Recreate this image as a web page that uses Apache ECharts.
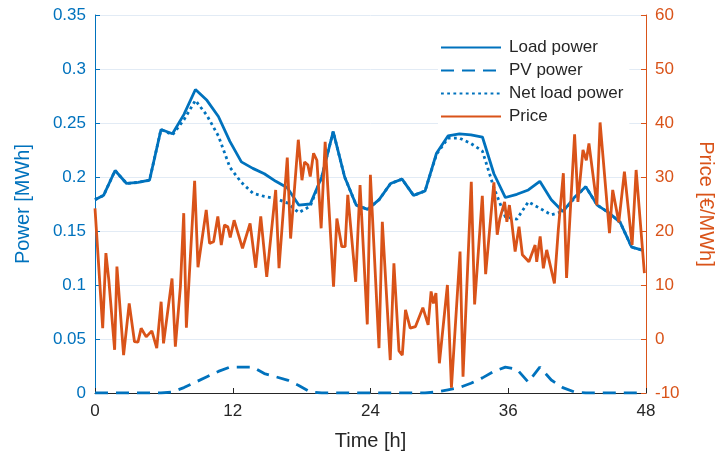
<!DOCTYPE html>
<html>
<head>
<meta charset="utf-8">
<script src="https://cdn.jsdelivr.net/npm/echarts@6/dist/echarts.min.js"></script>
<style>
html,body{margin:0;padding:0;background:#fff;overflow:hidden;}
#c{width:724px;height:461px;}
</style>
</head>
<body>
<div id="c"></div>
<script>
// Time grid (h) for the hourly power profiles
const hours = [0, 0.75, 1.75, 2.75, 3.75, 4.75, 5.75, 6.75, 7.75, 8.75, 9.75, 10.75, 11.75, 12.75, 13.75, 14.75, 15.75, 16.75, 17.75, 18.75, 19.75, 20.75, 21.75, 22.75, 23.75, 24.75, 25.75, 26.75, 27.75, 28.75, 29.75, 30.75, 31.75, 32.75, 33.75, 34.75, 35.75, 36.75, 37.75, 38.75, 39.75, 40.75, 41.75, 42.75, 43.75, 44.75, 45.75, 46.75, 47.75];

const loadPower = [0.179, 0.183, 0.206, 0.194, 0.195, 0.197, 0.244, 0.240, 0.258, 0.281, 0.271, 0.256, 0.233, 0.214, 0.208, 0.203, 0.196, 0.190, 0.174, 0.175, 0.200, 0.242, 0.200, 0.174, 0.170, 0.179, 0.194, 0.198, 0.183, 0.187, 0.222, 0.238, 0.240, 0.239, 0.237, 0.203, 0.181, 0.184, 0.188, 0.196, 0.179, 0.168, 0.181, 0.191, 0.174, 0.167, 0.158, 0.135, 0.132];

const pvPower = [0, 0, 0, 0, 0, 0, 0, 0.001, 0.005, 0.010, 0.015, 0.020, 0.024, 0.024, 0.024, 0.018, 0.015, 0.012, 0.007, 0.001, 0, 0, 0, 0, 0, 0, 0, 0, 0, 0, 0.001, 0.003, 0.005, 0.009, 0.014, 0.020, 0.024, 0.022, 0.010, 0.024, 0.012, 0.005, 0.001, 0, 0, 0, 0, 0, 0];

const netLoadPower = [0.179, 0.183, 0.206, 0.194, 0.195, 0.197, 0.244, 0.239, 0.253, 0.271, 0.257, 0.238, 0.209, 0.195, 0.185, 0.182, 0.180, 0.176, 0.167, 0.173, 0.200, 0.242, 0.200, 0.174, 0.170, 0.179, 0.194, 0.198, 0.183, 0.187, 0.221, 0.236, 0.236, 0.231, 0.224, 0.190, 0.163, 0.161, 0.177, 0.171, 0.165, 0.168, 0.180, 0.191, 0.174, 0.167, 0.158, 0.135, 0.132];

// Price (€/MWh) read at its vertices
const priceTime = [0.0, 0.67, 0.95, 1.2, 1.71, 1.91, 2.49, 2.98, 3.44, 3.74, 4.02, 4.46, 4.95, 5.38, 5.76, 5.97, 6.71, 7.0, 7.44, 7.73, 7.96, 8.68, 8.97, 9.69, 9.98, 10.33, 10.7, 11.0, 11.28, 11.57, 11.78, 12.12, 12.85, 13.51, 14.0, 14.44, 14.96, 15.74, 16.03, 16.75, 17.04, 17.71, 18.03, 18.26, 18.55, 18.75, 19.04, 19.33, 19.7, 20.05, 20.78, 21.07, 21.5, 21.79, 22.02, 22.71, 23.09, 23.72, 23.99, 24.74, 25.03, 25.72, 26.04, 26.48, 26.77, 27.05, 27.46, 27.92, 28.56, 29.02, 29.28, 29.48, 29.7, 30.0, 30.7, 31.05, 31.8, 32.06, 32.78, 33.07, 33.74, 34.03, 34.75, 35.04, 35.27, 35.68, 35.88, 36.1, 36.3, 36.6, 36.94, 37.23, 37.8, 38.34, 38.48, 38.78, 39.06, 39.35, 40.02, 40.36, 40.8, 41.08, 41.78, 42.07, 42.51, 42.8, 43.03, 43.72, 44.0, 44.82, 45.1, 45.63, 46.12, 46.79, 47.14, 47.86];
const priceValue = [24.2, 2.0, 15.9, 11.0, -2.0, 13.4, -3.0, 6.6, -0.5, -0.6, 2.0, 0.4, 1.5, -1.7, 6.9, -0.8, 11.2, -1.4, 9.7, 23.3, 2.1, 29.3, 13.3, 23.9, 17.7, 18.0, 22.7, 17.4, 21.1, 20.8, 18.8, 22.0, 16.8, 21.4, 13.2, 22.7, 11.5, 27.6, 13.1, 33.6, 18.6, 36.9, 29.4, 32.8, 32.2, 30.1, 34.4, 33.1, 20.5, 36.5, 9.7, 22.3, 17.1, 17.1, 26.7, 10.6, 28.5, 2.7, 30.4, -1.7, 21.7, -3.9, 14.0, -2.2, -3.0, 5.4, 2.0, 2.3, 5.8, 2.6, 8.8, 6.6, 8.5, -4.5, 10.0, -9.0, 16.2, -7.0, 29.1, 6.4, 26.5, 12.0, 29.0, 19.3, 22.3, 25.4, 21.7, 24.8, 21.7, 16.2, 20.8, 15.6, 14.3, 17.4, 14.3, 19.0, 13.1, 16.5, 10.3, 20.2, 30.7, 11.3, 37.9, 25.4, 35.0, 33.1, 36.2, 24.8, 40.1, 19.6, 27.6, 21.6, 31.0, 17.4, 31.3, 12.2];

const seriesNames = ['Load power', 'PV power', 'Net load power', 'Price'];
const xTicks = {min: 0, max: 48, interval: 12};
const powerTicks = {min: 0, max: 0.35, interval: 0.05};
const priceTicks = {min: -10, max: 60, interval: 10};

const BLUE = '#0072BD';
const ORANGE = '#D95319';
const FONT = 'Liberation Sans, Arial, Helvetica, sans-serif';
const LW = 2.8;

const pair = (xs, ys) => xs.map((x, i) => [x, ys[i]]);

const chart = echarts.init(document.getElementById('c'), null, {renderer: 'canvas', width: 724, height: 461});
chart.setOption({
  animation: false,
  backgroundColor: '#fff',
  textStyle: {fontFamily: FONT},
  grid: {left: 95, top: 15, width: 553, height: 378, containLabel: false},
  legend: {
    orient: 'vertical',
    left: 438,
    top: 36,
    itemWidth: 60,
    itemHeight: 14,
    itemGap: 6,
    backgroundColor: '#fff',
    padding: [3, 6, 3, 2],
    itemStyle: {opacity: 0},
    textStyle: {fontSize: 17, color: '#262626', fontFamily: FONT, padding: [0, 0, 0, 3]},
    data: seriesNames
  },
  xAxis: {
    type: 'value',
    min: xTicks.min, max: xTicks.max, interval: xTicks.interval,
    name: 'Time [h]',
    nameLocation: 'middle',
    nameGap: 38,
    nameTextStyle: {fontSize: 20, color: '#262626', fontFamily: FONT},
    axisLine: {show: true, lineStyle: {color: '#262626', width: 1}},
    axisTick: {show: true, inside: true, length: 5, lineStyle: {color: '#262626'}},
    axisLabel: {fontSize: 17, color: '#262626', margin: 10, fontFamily: FONT},
    splitLine: {show: false}
  },
  yAxis: [{
    type: 'value',
    position: 'left',
    min: powerTicks.min, max: powerTicks.max, interval: powerTicks.interval,
    name: 'Power [MWh]',
    nameLocation: 'middle',
    nameGap: 62,
    nameRotate: 90,
    nameTextStyle: {fontSize: 20, color: BLUE, fontFamily: FONT},
    axisLine: {show: true, lineStyle: {color: BLUE, width: 1}},
    axisTick: {show: true, inside: true, length: 5, lineStyle: {color: BLUE}},
    axisLabel: {fontSize: 17, color: BLUE, margin: 9, fontFamily: FONT,
      formatter: v => String(Math.round(v * 100) / 100)},
    splitLine: {show: true, lineStyle: {color: '#e2ebf5', width: 1}}
  }, {
    type: 'value',
    position: 'right',
    min: priceTicks.min, max: priceTicks.max, interval: priceTicks.interval,
    name: 'Price [€/MWh]',
    nameLocation: 'middle',
    nameGap: 50,
    nameRotate: -90,
    nameTextStyle: {fontSize: 20, color: ORANGE, fontFamily: FONT},
    axisLine: {show: true, lineStyle: {color: ORANGE, width: 1}},
    axisTick: {show: true, inside: true, length: 5, lineStyle: {color: ORANGE}},
    axisLabel: {fontSize: 17, color: ORANGE, margin: 9, fontFamily: FONT},
    splitLine: {show: false}
  }],
  series: [{
    name: seriesNames[0], type: 'line', yAxisIndex: 0, symbol: 'none',
    data: pair(hours, loadPower),
    lineStyle: {color: BLUE, width: LW}, itemStyle: {color: BLUE}, z: 3
  }, {
    name: seriesNames[1], type: 'line', yAxisIndex: 0, symbol: 'none',
    data: pair(hours, pvPower),
    lineStyle: {color: BLUE, width: LW, type: [13, 8]}, itemStyle: {color: BLUE}, z: 3
  }, {
    name: seriesNames[2], type: 'line', yAxisIndex: 0, symbol: 'none',
    data: pair(hours, netLoadPower),
    lineStyle: {color: BLUE, width: LW, type: [2.8, 3.4]}, itemStyle: {color: BLUE}, z: 3
  }, {
    name: seriesNames[3], type: 'line', yAxisIndex: 1, symbol: 'none',
    data: pair(priceTime, priceValue),
    lineStyle: {color: ORANGE, width: LW}, itemStyle: {color: ORANGE}, z: 4
  }]
});
</script>
</body>
</html>
